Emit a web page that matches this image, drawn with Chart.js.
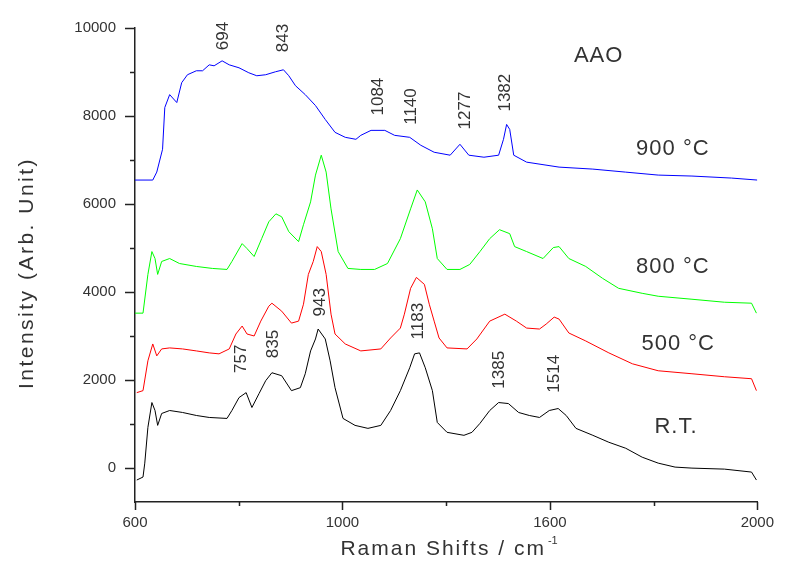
<!DOCTYPE html>
<html>
<head>
<meta charset="utf-8">
<title>Raman spectra of AAO</title>
<script src="https://cdn.jsdelivr.net/npm/chart.js@4.4.0/dist/chart.umd.min.js"></script>
<style>
  html, body { margin: 0; padding: 0; background: #fff; }
  canvas { display: block; }
</style>
</head>
<body>
<canvas id="ramanChart" width="786" height="573"></canvas>
<script>
// ===== Data =====
const xTickLabels = ['600', '1000', '1600', '2000'];
const yTickValues = [0, 2000, 4000, 6000, 8000, 10000];
const yMinorTicks = [1000, 3000, 5000, 7000, 9000];

// 900 °C (blue)
const shift900 = [600, 640, 649, 662, 667, 678, 694, 705, 718, 738, 752, 767, 778, 796, 812, 834, 856, 874, 894, 916, 934, 946, 961, 983, 1006, 1028, 1050, 1073, 1097, 1108, 1131, 1162, 1184, 1218, 1243, 1273, 1309, 1331, 1351, 1385, 1418, 1429, 1436, 1443, 1452, 1481, 1554, 1630, 1703, 1777, 1853, 1942, 2000];
const intensity900 = [6545, 6545, 6726, 7245, 8193, 8486, 8306, 8757, 8938, 9028, 9028, 9163, 9141, 9254, 9163, 9096, 8983, 8915, 8938, 9005, 9051, 8915, 8689, 8486, 8238, 7922, 7629, 7516, 7471, 7561, 7674, 7674, 7561, 7516, 7335, 7177, 7110, 7358, 7110, 7064, 7110, 7471, 7809, 7696, 7110, 6952, 6839, 6794, 6726, 6658, 6636, 6590, 6545];

// 800 °C (green)
const shift800 = [600, 618, 629, 638, 645, 651, 660, 678, 700, 738, 774, 807, 818, 841, 852, 868, 885, 901, 917, 930, 946, 968, 979, 995, 1006, 1019, 1030, 1041, 1057, 1079, 1108, 1139, 1168, 1197, 1220, 1235, 1253, 1269, 1280, 1302, 1331, 1353, 1376, 1398, 1420, 1443, 1454, 1481, 1518, 1541, 1554, 1576, 1614, 1652, 1688, 1741, 1777, 1853, 1926, 1987, 1998];
const intensity800 = [3521, 3521, 4401, 4920, 4762, 4401, 4695, 4762, 4649, 4582, 4537, 4514, 4695, 5101, 4988, 4808, 5214, 5597, 5778, 5710, 5372, 5146, 5530, 6049, 6658, 7110, 6726, 5891, 4920, 4537, 4514, 4514, 4649, 5214, 5891, 6320, 6049, 5439, 4762, 4514, 4514, 4627, 4920, 5214, 5417, 5327, 5033, 4920, 4762, 5011, 5033, 4762, 4582, 4311, 4085, 3972, 3905, 3837, 3769, 3747, 3521];

// 500 °C (red)
const shift500 = [604, 618, 629, 640, 649, 660, 678, 707, 738, 767, 789, 812, 827, 841, 852, 868, 883, 901, 908, 930, 952, 968, 979, 990, 1001, 1010, 1019, 1030, 1041, 1050, 1073, 1108, 1153, 1175, 1197, 1206, 1220, 1233, 1251, 1262, 1273, 1284, 1302, 1347, 1369, 1398, 1432, 1458, 1481, 1510, 1525, 1543, 1554, 1576, 1614, 1666, 1719, 1777, 1853, 1926, 1987, 1998];
const intensity500 = [1715, 1760, 2438, 2821, 2550, 2708, 2731, 2708, 2663, 2618, 2596, 2708, 3047, 3228, 3047, 3002, 3340, 3679, 3747, 3566, 3295, 3340, 3724, 4401, 4695, 5033, 4920, 4401, 3498, 3047, 2821, 2663, 2708, 2957, 3182, 3498, 4085, 4333, 4175, 3724, 3340, 2957, 2731, 2708, 2934, 3340, 3498, 3340, 3182, 3160, 3273, 3431, 3386, 3070, 2889, 2618, 2370, 2212, 2144, 2076, 2031, 1760];

// R.T. (black)
const shiftRT = [604, 618, 622, 629, 638, 645, 651, 660, 678, 707, 738, 767, 807, 818, 834, 850, 863, 879, 894, 908, 930, 952, 972, 983, 995, 1006, 1012, 1028, 1039, 1050, 1068, 1095, 1124, 1153, 1175, 1197, 1218, 1229, 1240, 1253, 1269, 1280, 1302, 1340, 1358, 1376, 1398, 1418, 1440, 1463, 1487, 1510, 1532, 1552, 1570, 1592, 1630, 1666, 1704, 1741, 1777, 1815, 1853, 1926, 1987, 1998];
const intensityRT = [-271, -203, 113, 925, 1490, 1309, 971, 1241, 1309, 1264, 1196, 1151, 1129, 1309, 1602, 1715, 1377, 1693, 1986, 2167, 2099, 1760, 1828, 2144, 2663, 2934, 3160, 2934, 2438, 1828, 1129, 971, 903, 971, 1309, 1760, 2280, 2596, 2618, 2280, 1760, 1038, 813, 745, 813, 1016, 1309, 1490, 1467, 1264, 1196, 1151, 1309, 1354, 1196, 903, 745, 587, 451, 248, 113, 23, 0, -23, -90, -271];

// Peak annotations (text, and where they sit in data units)
const peakText = ['694', '843', '1084', '1140', '1277', '1382', '757', '835', '943', '1183', '1385', '1514'];
const peakX = [798, 934, 1148, 1222, 1343, 1432, 839, 912, 1017, 1238, 1420, 1543];
const peakY = [9818, 9773, 8441, 8216, 8125, 8531, 2483, 2821, 3769, 3340, 2234, 2144];

const sampleText = ['AAO', '900 °C', '800 °C', '500 °C', 'R.T.'];
const sampleX = [1643, 1810, 1810, 1822, 1817];
const sampleY = [9367, 7245, 4582, 2821, 925];

// ===== Helpers =====
const xMin = 600, xMax = 2000, yMin = -770, yMax = 10000;
const xMajorTicks = xTickLabels.map((_, i) => xMin + i * (xMax - xMin) / (xTickLabels.length - 1));
const xMinorTicks = xMajorTicks.slice(1).map((v, i) => (v + xMajorTicks[i]) / 2);

function toPoints(xs, ys) {
    return xs.map((x, i) => ({ x: x, y: ys[i] }));
}

function series(label, xs, ys, color) {
    return {
        label: label,
        data: toPoints(xs, ys),
        borderColor: color,
        backgroundColor: color,
        borderWidth: 1,
        pointRadius: 0,
        tension: 0,
        fill: false
    };
}

// ===== Ticks, axis titles and labels drawn on top =====
const decorations = {
    id: 'decorations',
    afterDraw(chart) {
        const ctx = chart.ctx;
        const x = chart.scales.x, y = chart.scales.y;
        const area = chart.chartArea;
        ctx.save();

        // tick marks (outward)
        ctx.strokeStyle = '#222';
        ctx.lineWidth = 1.5;
        ctx.beginPath();
        yTickValues.forEach(v => {
            const py = Math.round(y.getPixelForValue(v)) + 0.5;
            ctx.moveTo(area.left - 10, py); ctx.lineTo(area.left, py);
        });
        yMinorTicks.forEach(v => {
            const py = Math.round(y.getPixelForValue(v)) + 0.5;
            ctx.moveTo(area.left - 5, py); ctx.lineTo(area.left, py);
        });
        xMajorTicks.forEach(v => {
            const px = Math.round(x.getPixelForValue(v)) + 0.5;
            ctx.moveTo(px, area.bottom); ctx.lineTo(px, area.bottom + 8);
        });
        xMinorTicks.forEach(v => {
            const px = Math.round(x.getPixelForValue(v)) + 0.5;
            ctx.moveTo(px, area.bottom); ctx.lineTo(px, area.bottom + 4);
        });
        ctx.stroke();

        ctx.fillStyle = '#333';
        ctx.textAlign = 'center';
        ctx.textBaseline = 'middle';

        // axis titles
        ctx.save();
        ctx.font = '21px "Liberation Sans", Arial, sans-serif';
        ctx.letterSpacing = '2.5px';
        ctx.translate(27, (area.top + area.bottom) / 2 + 8);
        ctx.rotate(-Math.PI / 2);
        ctx.fillText('Intensity (Arb. Unit)', 0, 0);
        ctx.restore();

        ctx.save();
        ctx.font = '21px "Liberation Sans", Arial, sans-serif';
        ctx.letterSpacing = '2px';
        const main = 'Raman Shifts / cm';
        const w = ctx.measureText(main).width;
        const cx = (area.left + area.right) / 2 + 3;
        ctx.textAlign = 'left';
        ctx.fillText(main, cx - w / 2 - 6, 549);
        ctx.font = '11px "Liberation Sans", Arial, sans-serif';
        ctx.letterSpacing = '0px';
        ctx.fillText('-1', cx + w / 2 - 4, 541);
        ctx.restore();

        // peak positions, rotated
        ctx.font = '17px "Liberation Sans", Arial, sans-serif';
        peakText.forEach((t, i) => {
            ctx.save();
            ctx.translate(x.getPixelForValue(peakX[i]), y.getPixelForValue(peakY[i]));
            ctx.rotate(-Math.PI / 2);
            ctx.fillText(t, 0, 0);
            ctx.restore();
        });

        // sample labels
        ctx.font = '22px "Liberation Sans", Arial, sans-serif';
        ctx.letterSpacing = '1px';
        sampleText.forEach((t, i) => {
            ctx.fillText(t, x.getPixelForValue(sampleX[i]), y.getPixelForValue(sampleY[i]));
        });

        ctx.restore();
    }
};

// ===== Raman Chart =====
const ramanCtx = document.getElementById('ramanChart').getContext('2d');
new Chart(ramanCtx, {
    type: 'line',
    data: {
        datasets: [
            series('900 °C', shift900, intensity900, '#0000ff'),
            series('800 °C', shift800, intensity800, '#00ff00'),
            series('500 °C', shift500, intensity500, '#ff0000'),
            series('R.T.', shiftRT, intensityRT, '#000000')
        ]
    },
    options: {
        responsive: false,
        animation: false,
        devicePixelRatio: 1,
        layout: { padding: { left: 0, top: 25, right: 23, bottom: 0 } },
        plugins: {
            legend: { display: false },
            tooltip: { enabled: false }
        },
        scales: {
            x: {
                type: 'linear',
                min: xMin,
                max: xMax,
                grid: { display: false, drawTicks: false },
                border: { display: true, color: '#222', width: 1.5 },
                afterBuildTicks: s => { s.ticks = xMajorTicks.map(v => ({ value: v })); },
                afterFit: s => { s.height = 71; },
                ticks: {
                    padding: 12,
                    maxRotation: 0,
                    color: '#333',
                    font: { family: '"Liberation Sans", Arial, sans-serif', size: 15 },
                    callback: (value, index) => xTickLabels[index]
                }
            },
            y: {
                type: 'linear',
                min: yMin,
                max: yMax,
                grid: { display: false, drawTicks: false },
                border: { display: true, color: '#222', width: 1.5 },
                afterBuildTicks: s => { s.ticks = yTickValues.map(v => ({ value: v })); },
                afterFit: s => { s.width = 135; },
                ticks: {
                    padding: 19,
                    color: '#333',
                    font: { family: '"Liberation Sans", Arial, sans-serif', size: 15 },
                    callback: value => String(value)
                }
            }
        }
    },
    plugins: [decorations]
});
</script>
</body>
</html>
